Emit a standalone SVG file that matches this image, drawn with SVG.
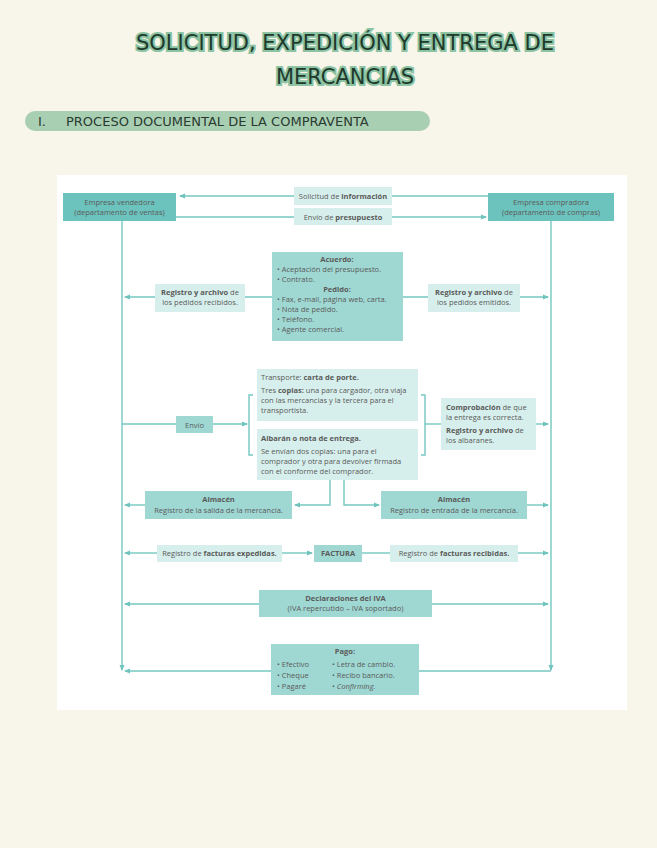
<svg xmlns="http://www.w3.org/2000/svg" width="657" height="848" viewBox="0 0 657 848">
<defs>
<marker id="ah" markerWidth="6" markerHeight="6" refX="5" refY="3" orient="auto" markerUnits="userSpaceOnUse"><path d="M0,0.5 L6,3 L0,5.5 z" fill="#6fc4be"/></marker>
<style>
text{font-family:"Open Sans","Liberation Sans",sans-serif;fill:#5a5a5a;font-size:7.5px}
.b{font-weight:bold}
.c{text-anchor:middle}
.dk{fill:#6cc3bd}
.md{fill:#9fd8d3}
.lt{fill:#d6efec}
.ln{stroke:#74c7c1;stroke-width:1.4;fill:none}
.t{font-family:"DejaVu Sans",sans-serif;font-size:21px;fill:#1f3a2c;stroke:#8cc3a3;stroke-width:4;paint-order:stroke;text-anchor:middle}
</style>
</defs>
<rect width="657" height="848" fill="#f8f5ea"/>
<text class="t" x="345" y="50">SOLICITUD, EXPEDICIÓN Y ENTREGA DE</text>
<text class="t" x="345" y="84">MERCANCIAS</text>
<rect x="25" y="111" width="405" height="20" rx="10" fill="#a9cfb3"/>
<text x="38" y="126" style="font-size:13px;fill:#2a3a30;font-family:'DejaVu Sans',sans-serif">I.<tspan x="66">PROCESO DOCUMENTAL DE LA COMPRAVENTA</tspan></text>
<rect x="57" y="175" width="570" height="535" fill="#ffffff"/>
<g id="connectors">
<path class="ln" d="M488,196 H180" marker-end="url(#ah)"/>
<path class="ln" d="M176,217 H486" marker-end="url(#ah)"/>
<path class="ln" d="M122,221 V670" marker-end="url(#ah)"/>
<path class="ln" d="M551,221 V670" marker-end="url(#ah)"/>
<path class="ln" d="M272,297 H125" marker-end="url(#ah)"/>
<path class="ln" d="M403,297 H548" marker-end="url(#ah)"/>
<path class="ln" d="M122,424 H176"/>
<path class="ln" d="M213,424 H247" marker-end="url(#ah)"/>
<path class="ln" d="M253,395 H249 V455 H253"/>
<path class="ln" d="M421,395 H425 V455 H421"/>
<path class="ln" d="M425,424 H441"/>
<path class="ln" d="M536,424 H548" marker-end="url(#ah)"/>
<path class="ln" d="M330,480 V505 H295" marker-end="url(#ah)"/>
<path class="ln" d="M344,480 V505 H379" marker-end="url(#ah)"/>
<path class="ln" d="M145,505 H125" marker-end="url(#ah)"/>
<path class="ln" d="M527,505 H548" marker-end="url(#ah)"/>
<path class="ln" d="M157,553 H125" marker-end="url(#ah)"/>
<path class="ln" d="M282,553 H312" marker-end="url(#ah)"/>
<path class="ln" d="M362,553 H390"/>
<path class="ln" d="M518,553 H548" marker-end="url(#ah)"/>
<path class="ln" d="M259,604 H125" marker-end="url(#ah)"/>
<path class="ln" d="M432,604 H548" marker-end="url(#ah)"/>
<path class="ln" d="M271,671 H125" marker-end="url(#ah)"/>
<path class="ln" d="M419,671 H551"/>
</g>
<g id="vendedora"><rect class="dk" x="63" y="193" width="113" height="28"/><text class="c" x="119.5" y="205">Empresa vendedora</text><text class="c" x="119.5" y="215">(departamento de ventas)</text></g>
<g id="compradora"><rect class="dk" x="488" y="193" width="126" height="28"/><text class="c" x="551" y="205">Empresa compradora</text><text class="c" x="551" y="215">(departamento de compras)</text></g>
<g id="solicitud"><rect class="lt" x="294" y="187" width="98" height="18"/><text class="c" x="343" y="199">Solicitud de <tspan class="b">información</tspan></text></g>
<g id="envio-presupuesto"><rect class="lt" x="294" y="208" width="98" height="17"/><text class="c" x="343" y="220">Envío de <tspan class="b">presupuesto</tspan></text></g>
<g id="reg-recibidos"><rect class="lt" x="155" y="284" width="90" height="28"/><text class="c" x="200" y="295"><tspan class="b">Registro y archivo</tspan> de</text><text class="c" x="200" y="305">los pedidos recibidos.</text></g>
<g id="acuerdo"><rect class="md" x="272" y="252" width="131" height="89"/>
<text class="c b" x="337" y="262">Acuerdo:</text>
<text x="277" y="272">• Aceptación del presupuesto.</text>
<text x="277" y="282">• Contrato.</text>
<text class="c b" x="337" y="292">Pedido:</text>
<text x="277" y="302">• Fax, e-mail, página web, carta.</text>
<text x="277" y="312">• Nota de pedido.</text>
<text x="277" y="322">• Teléfono.</text>
<text x="277" y="332">• Agente comercial.</text></g>
<g id="reg-emitidos"><rect class="lt" x="428" y="284" width="92" height="28"/><text class="c" x="474" y="295"><tspan class="b">Registro y archivo</tspan> de</text><text class="c" x="474" y="305">los pedidos emitidos.</text></g>
<g id="envio"><rect class="md" x="176" y="416" width="37" height="17"/><text class="c" x="194.5" y="428">Envío</text></g>
<g id="transporte"><rect class="lt" x="257" y="369" width="161" height="52"/>
<text x="261" y="380">Transporte: <tspan class="b">carta de porte.</tspan></text>
<text x="261" y="393">Tres <tspan class="b">copias:</tspan> una para cargador, otra viaja</text>
<text x="261" y="403">con las mercancías y la tercera para el</text>
<text x="261" y="413">transportista.</text></g>
<g id="albaran"><rect class="lt" x="257" y="429" width="161" height="51"/>
<text class="b" x="261" y="441">Albarán o nota de entrega.</text>
<text x="261" y="454">Se envían dos copias: una para el</text>
<text x="261" y="464">comprador y otra para devolver firmada</text>
<text x="261" y="474">con el conforme del comprador.</text></g>
<g id="comprobacion"><rect class="lt" x="441" y="398" width="95" height="52"/>
<text x="446" y="410"><tspan class="b">Comprobación</tspan> de que</text>
<text x="446" y="420">la entrega es correcta.</text>
<text x="446" y="433"><tspan class="b">Registro y archivo</tspan> de</text>
<text x="446" y="443">los albaranes.</text></g>
<g id="almacen-salida"><rect class="md" x="145" y="491" width="147" height="28"/><text class="c b" x="218.5" y="502">Almacén</text><text class="c" x="218.5" y="513">Registro de la salida de la mercancía.</text></g>
<g id="almacen-entrada"><rect class="md" x="381" y="491" width="146" height="28"/><text class="c b" x="454" y="502">Almacén</text><text class="c" x="454" y="513">Registro de entrada de la mercancía.</text></g>
<g id="fact-expedidas"><rect class="lt" x="157" y="545" width="125" height="17"/><text class="c" x="219.5" y="556">Registro de <tspan class="b">facturas expedidas.</tspan></text></g>
<g id="factura"><rect class="md" x="314" y="545" width="48" height="17"/><text class="c b" x="338" y="556">FACTURA</text></g>
<g id="fact-recibidas"><rect class="lt" x="390" y="545" width="128" height="17"/><text class="c" x="454" y="556">Registro de <tspan class="b">facturas recibidas.</tspan></text></g>
<g id="iva"><rect class="md" x="259" y="590" width="173" height="27"/><text class="c b" x="345.5" y="601">Declaraciones del IVA</text><text class="c" x="345.5" y="611">(IVA repercutido – IVA soportado)</text></g>
<g id="pago"><rect class="md" x="271" y="644" width="148" height="51"/>
<text class="c b" x="345" y="654">Pago:</text>
<text x="277" y="667">• Efectivo</text><text x="277" y="678">• Cheque</text><text x="277" y="689">• Pagaré</text>
<text x="332" y="667">• Letra de cambio.</text><text x="332" y="678">• Recibo bancario.</text><text x="332" y="689">• <tspan font-style="italic">Confirming.</tspan></text></g>
</svg>
